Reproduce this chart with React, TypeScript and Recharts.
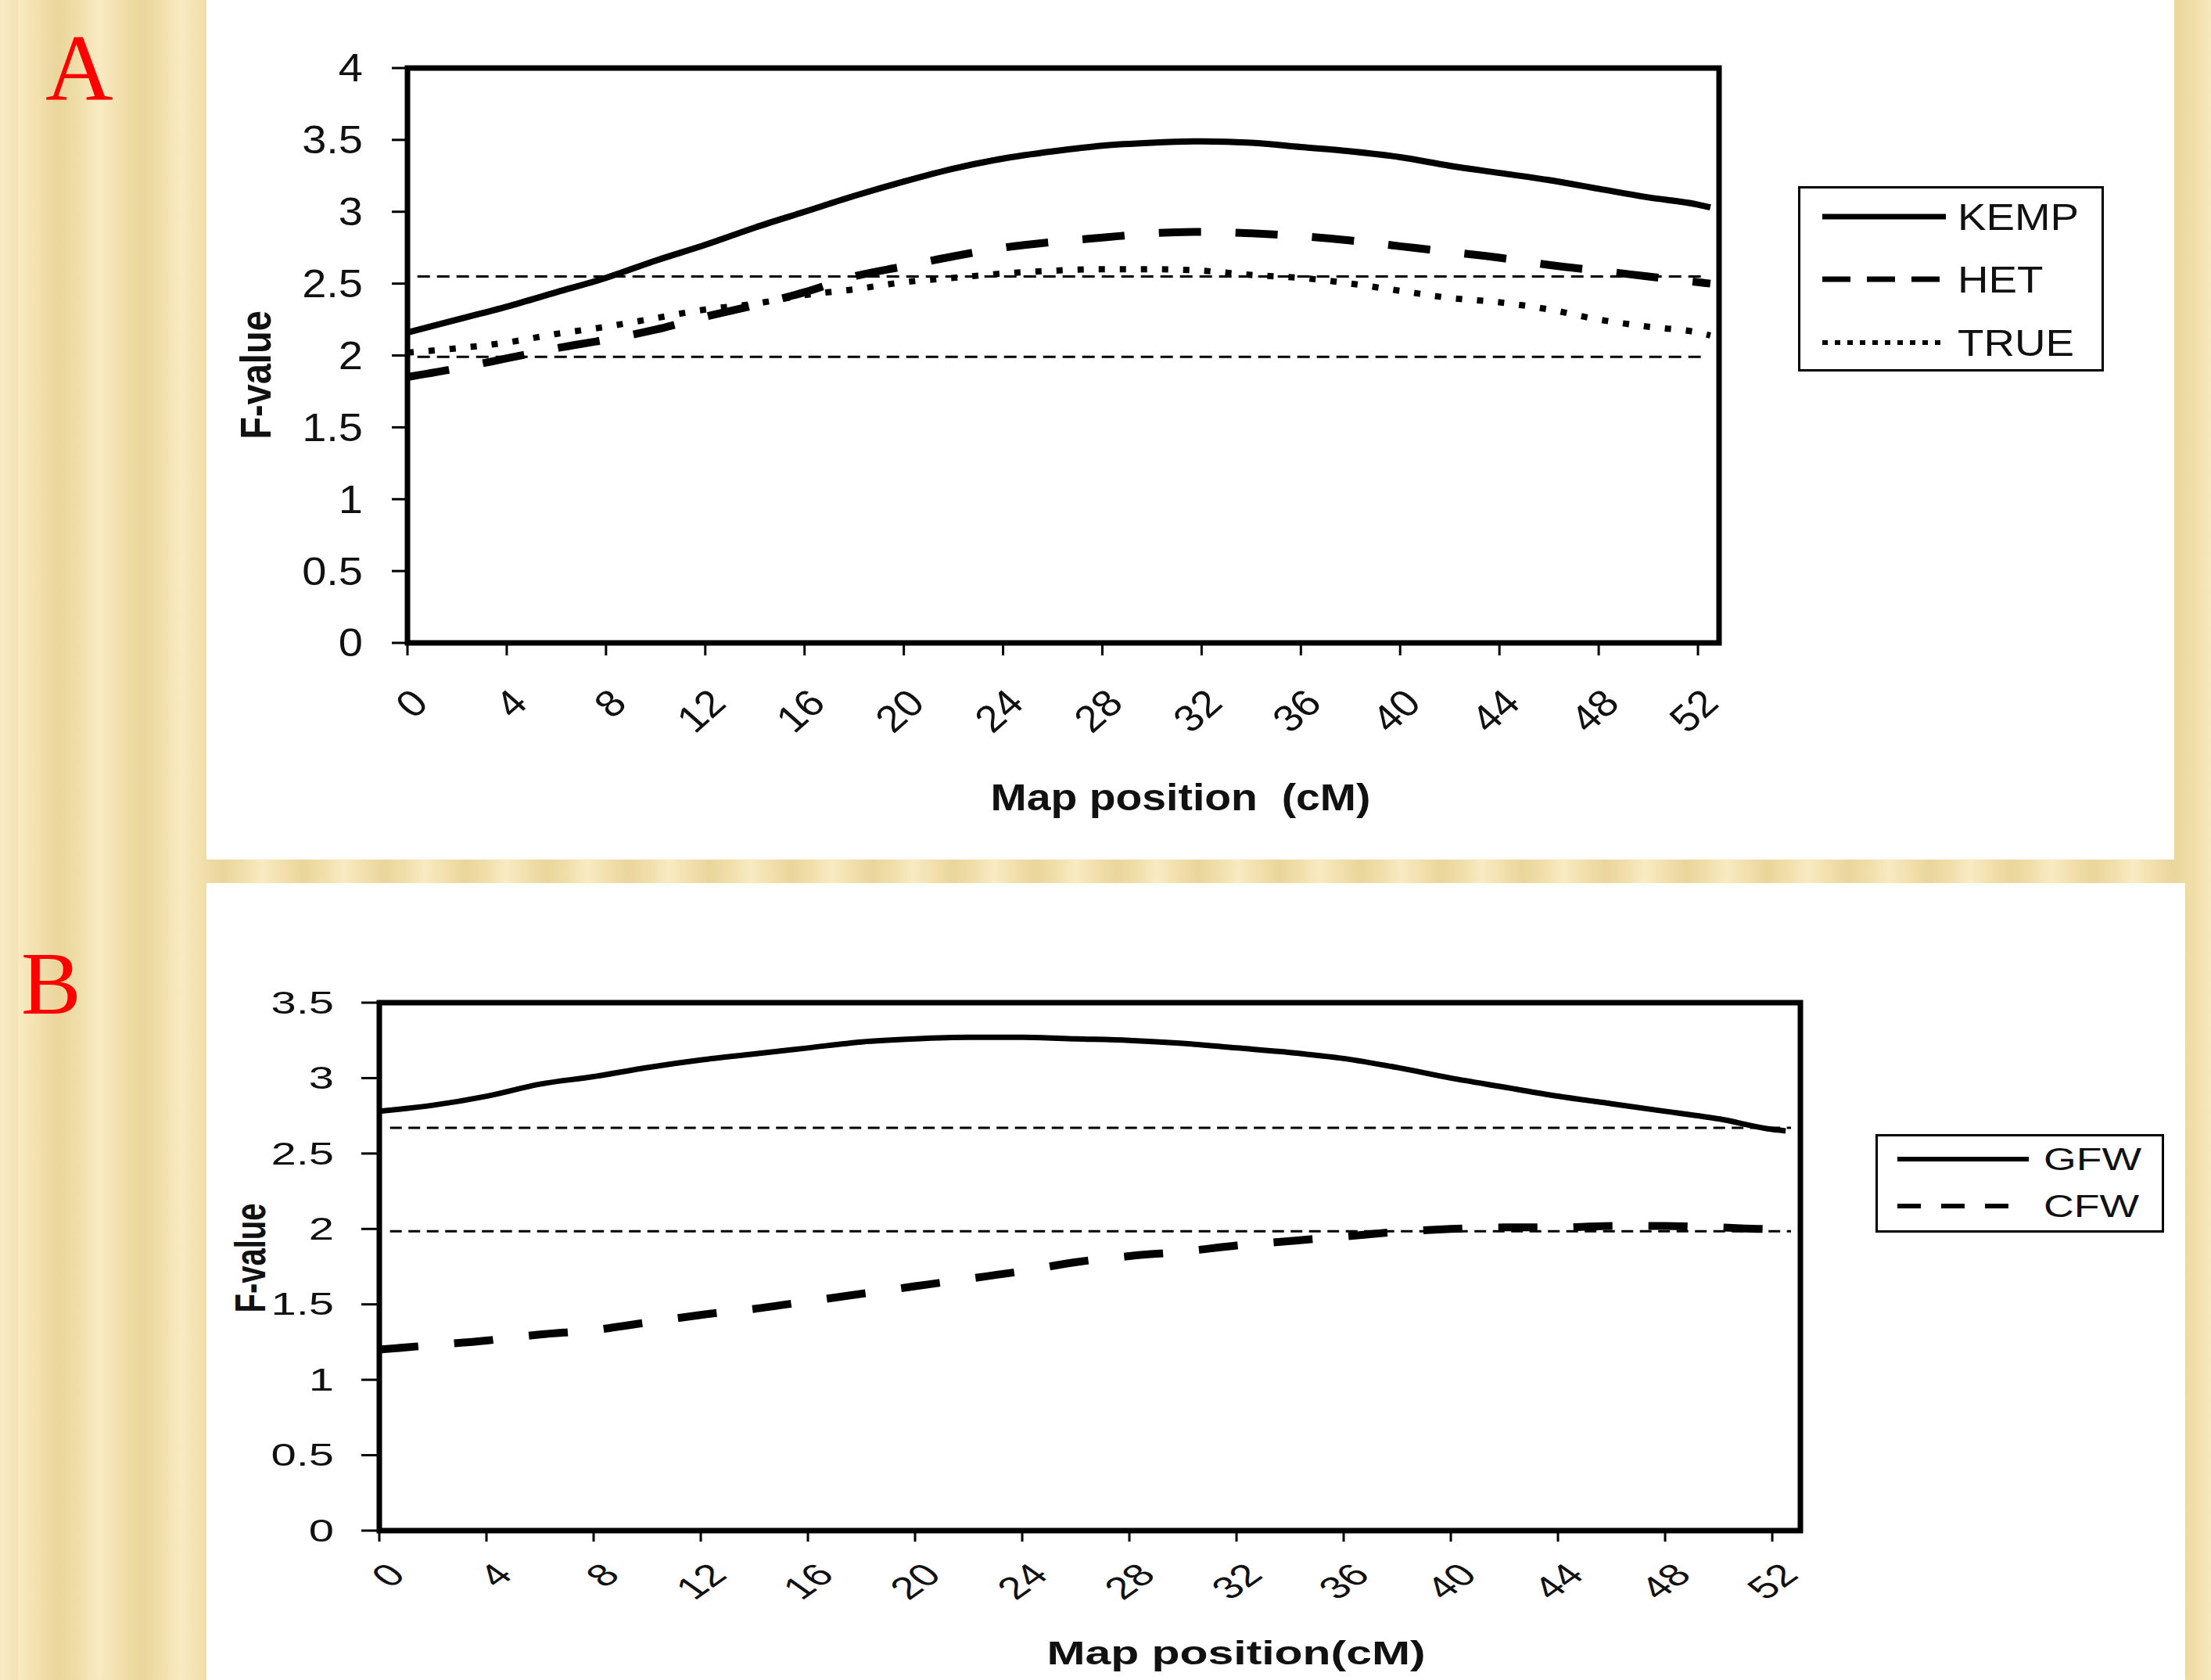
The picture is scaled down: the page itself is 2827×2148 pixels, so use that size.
import React from 'react';
import { LineChart, Line, XAxis, YAxis, ReferenceLine, ReferenceArea, Legend } from 'recharts';

// ---------- data ----------
const positions = [0, 2, 4, 6, 8, 10, 12, 14, 16, 18, 20, 22, 24, 26, 28, 30, 32, 34, 36, 38, 40, 42, 44, 46, 48, 50, 52, 52.5];

// Panel A
const kempValues = [2.16, 2.25, 2.34, 2.44, 2.54, 2.66, 2.77, 2.89, 3.0, 3.11, 3.21, 3.3, 3.37, 3.42, 3.46, 3.48, 3.49, 3.48, 3.45, 3.42, 3.38, 3.32, 3.27, 3.22, 3.16, 3.1, 3.05, 3.03];
const hetValues = [1.85, 1.91, 1.98, 2.05, 2.11, 2.18, 2.27, 2.35, 2.44, 2.55, 2.62, 2.69, 2.75, 2.79, 2.82, 2.85, 2.86, 2.85, 2.83, 2.8, 2.76, 2.72, 2.68, 2.63, 2.59, 2.55, 2.51, 2.5];
const trueValues = [2.02, 2.05, 2.09, 2.15, 2.2, 2.26, 2.32, 2.36, 2.42, 2.46, 2.51, 2.54, 2.57, 2.59, 2.6, 2.6, 2.59, 2.56, 2.54, 2.5, 2.45, 2.4, 2.37, 2.32, 2.25, 2.2, 2.16, 2.14];

// Panel B
const gfwValues = [2.78, 2.82, 2.88, 2.96, 3.01, 3.07, 3.12, 3.16, 3.2, 3.24, 3.26, 3.27, 3.27, 3.26, 3.25, 3.23, 3.2, 3.17, 3.13, 3.07, 3.0, 2.94, 2.88, 2.83, 2.78, 2.73, 2.66, 2.65];
const cfwValues = [1.2, 1.23, 1.26, 1.3, 1.33, 1.38, 1.43, 1.47, 1.52, 1.57, 1.62, 1.67, 1.72, 1.78, 1.82, 1.85, 1.89, 1.92, 1.95, 1.98, 2.0, 2.01, 2.01, 2.02, 2.02, 2.01, 2.0, 2.0];

const xTicks = [0, 4, 8, 12, 16, 20, 24, 28, 32, 36, 40, 44, 48, 52];
const yTicksA = [0, 0.5, 1, 1.5, 2, 2.5, 3, 3.5, 4];
const yTicksB = [0, 0.5, 1, 1.5, 2, 2.5, 3, 3.5];
const thresholdsA = [2.55, 1.99];
const thresholdsB = [2.67, 1.985];

const seriesNamesA = ['KEMP', 'HET', 'TRUE'];
const seriesNamesB = ['GFW', 'CFW'];

const dataA = positions.map((p, i) => ({ pos: p, KEMP: kempValues[i], HET: hetValues[i], TRUE: trueValues[i] }));
const dataB = positions.map((p, i) => ({ pos: p, GFW: gfwValues[i], CFW: cfwValues[i] }));

// ---------- styles ----------
const FONT = '"Liberation Sans", Arial, sans-serif';
const INK = '#111';

const styleA: Record<string, { w: number; d?: string; lw: number; ld?: string }> = {
  KEMP: { w: 8, lw: 7 },
  HET: { w: 10, d: '54 44', lw: 7, ld: '36 21' },
  TRUE: { w: 8, d: '8 19', lw: 6, ld: '7 9' },
};
const styleB: Record<string, { w: number; d?: string; lw: number; ld?: string }> = {
  GFW: { w: 7, lw: 6 },
  CFW: { w: 10, d: '50 46', lw: 6, ld: '30 26' },
};

const makeYTick = (fs: number, sx: number) => (p: any) => (
  <text
    transform={`translate(${p.x},${p.y}) scale(${sx},1)`}
    textAnchor="end"
    dominantBaseline="central"
    fontFamily={FONT}
    fontSize={fs}
    fill={INK}
  >
    {p.payload.value}
  </text>
);

const makeXTick = (fs: number, sx: number, tickSize: number, dx: number, dy: number) => (p: any) => {
  const ax = p.x + dx;
  const ay = p.y - tickSize + dy;
  return (
    <text
      transform={`translate(${ax},${ay}) scale(${sx},1) rotate(-45)`}
      textAnchor="end"
      dominantBaseline="central"
      fontFamily={FONT}
      fontSize={fs}
      fill={INK}
    >
      {p.payload.value}
    </text>
  );
};

const makeYTitle = (text: string, fs: number, sx: number, cxOff: number, cyOff: number) => (props: any) => {
  const vb = props.viewBox;
  const cx = vb.x + cxOff;
  const cy = vb.y + vb.height / 2 + cyOff;
  return (
    <text
      transform={`translate(${cx},${cy}) scale(${sx},1) rotate(-90)`}
      textAnchor="middle"
      dominantBaseline="central"
      fontFamily={FONT}
      fontWeight="bold"
      fontSize={fs}
      fill={INK}
    >
      {text}
    </text>
  );
};

const makeXTitle = (text: string, fs: number, sx: number, cxOff: number, baseOff: number) => (props: any) => {
  const vb = props.viewBox;
  const cx = vb.x + vb.width / 2 + cxOff;
  const by = vb.y + baseOff;
  return (
    <text
      transform={`translate(${cx},${by}) scale(${sx},1)`}
      textAnchor="middle"
      fontFamily={FONT}
      fontWeight="bold"
      fontSize={fs}
      fill={INK}
      style={{ whiteSpace: 'pre' }}
    >
      {text}
    </text>
  );
};

type LegendBox = { w: number; h: number; rows: number[]; lx1: number; lx2: number; tx: number; fs: number; sx: number };

const makeLegend = (names: string[], st: typeof styleA, box: LegendBox) => () => (
  <div
    style={{
      boxSizing: 'border-box',
      width: box.w,
      height: box.h,
      border: '3px solid #000',
      background: '#fff',
      position: 'relative',
    }}
  >
    <svg width={box.w} height={box.h} style={{ position: 'absolute', left: -3, top: -3 }}>
      {names.map((n, i) => (
        <g key={n}>
          <line
            x1={box.lx1}
            x2={box.lx2}
            y1={box.rows[i]}
            y2={box.rows[i]}
            stroke="#000"
            strokeWidth={st[n].lw}
            strokeDasharray={st[n].ld}
          />
          <text
            transform={`translate(${box.tx},${box.rows[i]}) scale(${box.sx},1)`}
            dominantBaseline="central"
            fontFamily={FONT}
            fontSize={box.fs}
            fill={INK}
          >
            {n}
          </text>
        </g>
      ))}
    </svg>
  </div>
);

const gold =
  'repeating-linear-gradient(90deg, #f9eac3 0px, #f3e1b0 22px, #ead59b 52px, #f1dfab 80px, #f9eac3 104px)';

const XMAX_A = 52.85;
const XMAX_B = 53.05;

export default function App() {
  return (
    <div
      style={{
        position: 'absolute',
        left: 0,
        top: 0,
        width: 2827,
        height: 2148,
        overflow: 'hidden',
        background: gold,
        backgroundPosition: '23px 0',
      }}
    >
      {/* Panel letters */}
      <div style={{ position: 'absolute', left: 58, top: 28, fontFamily: '"Liberation Serif", serif', fontSize: 120, lineHeight: '120px', color: '#ff0000' }}>A</div>
      <div style={{ position: 'absolute', left: 27, top: 1200, fontFamily: '"Liberation Serif", serif', fontSize: 115, lineHeight: '115px', color: '#ff0000' }}>B</div>

      {/* Panel A */}
      <div style={{ position: 'absolute', left: 264, top: 0, width: 2516, height: 1099, background: '#fff' }}>
        <LineChart width={2516} height={1099} data={dataA} margin={{ top: 87, right: 582, bottom: 0, left: 0 }}>
          <XAxis
            dataKey="pos"
            type="number"
            domain={[0, XMAX_A]}
            ticks={xTicks}
            allowDataOverflow
            axisLine={false}
            tickLine={{ stroke: '#000', strokeWidth: 3 }}
            tickSize={16}
            tickMargin={0}
            height={277}
            interval={0}
            tick={makeXTick(48, 1.13, 16, 16, 68)}
            label={{ content: makeXTitle('Map position  (cM)', 49, 1.13, 150, 214) }}
          />
          <YAxis
            type="number"
            domain={[0, 4]}
            ticks={yTicksA}
            width={257}
            axisLine={false}
            tickLine={{ stroke: '#000', strokeWidth: 3 }}
            tickSize={20}
            tickMargin={37}
            interval={0}
            tick={makeYTick(50, 1.12)}
            label={{ content: makeYTitle('F-value', 47, 1.2, 62, 25) }}
          />
          {thresholdsA.map((t) => (
            <ReferenceLine
              key={t}
              segment={[{ x: 0.4, y: t }, { x: 52.3, y: t }]}
              stroke="#000"
              strokeWidth={3}
              strokeDasharray="16 9"
              ifOverflow="visible"
            />
          ))}
          {seriesNamesA.map((n) => (
            <Line
              key={n}
              dataKey={n}
              name={n}
              type="monotone"
              stroke="#000"
              strokeWidth={styleA[n].w}
              strokeDasharray={styleA[n].d}
              dot={false}
              activeDot={false}
              isAnimationActive={false}
            />
          ))}
          <ReferenceArea x1={0} x2={XMAX_A} y1={0} y2={4} fill="none" stroke="#000" strokeWidth={7} ifOverflow="visible" />
          <Legend
            layout="horizontal"
            align="center"
            verticalAlign="middle"
            wrapperStyle={{ left: 2035, top: 238, width: 391, height: 237 }}
            content={makeLegend(seriesNamesA, styleA, { w: 391, h: 237, rows: [39, 119, 200], lx1: 31, lx2: 189, tx: 204, fs: 48, sx: 1.14 })}
          />
        </LineChart>
      </div>

      {/* Panel B */}
      <div style={{ position: 'absolute', left: 264, top: 1129, width: 2530, height: 1019, background: '#fff' }}>
        <LineChart width={2530} height={1019} data={dataB} margin={{ top: 153, right: 492, bottom: 0, left: 0 }}>
          <XAxis
            dataKey="pos"
            type="number"
            domain={[0, XMAX_B]}
            ticks={xTicks}
            allowDataOverflow
            axisLine={false}
            tickLine={{ stroke: '#000', strokeWidth: 3 }}
            tickSize={14}
            tickMargin={0}
            height={191}
            interval={0}
            tick={makeXTick(40, 1.4, 14, 22, 49)}
            label={{ content: makeXTitle('Map position(cM)', 43, 1.37, 187, 171) }}
          />
          <YAxis
            type="number"
            domain={[0, 3.5]}
            ticks={yTicksB}
            width={221}
            axisLine={false}
            tickLine={{ stroke: '#000', strokeWidth: 3 }}
            tickSize={23}
            tickMargin={35}
            interval={0}
            tick={makeYTick(40, 1.45)}
            label={{ content: makeYTitle('F-value', 40, 1.4, 55, -11) }}
          />
          {thresholdsB.map((t) => (
            <ReferenceLine
              key={t}
              segment={[{ x: 0.4, y: t }, { x: 52.7, y: t }]}
              stroke="#000"
              strokeWidth={3}
              strokeDasharray="15 8.5"
              ifOverflow="visible"
            />
          ))}
          {seriesNamesB.map((n) => (
            <Line
              key={n}
              dataKey={n}
              name={n}
              type="monotone"
              stroke="#000"
              strokeWidth={styleB[n].w}
              strokeDasharray={styleB[n].d}
              dot={false}
              activeDot={false}
              isAnimationActive={false}
            />
          ))}
          <ReferenceArea x1={0} x2={XMAX_B} y1={0} y2={3.5} fill="none" stroke="#000" strokeWidth={7} ifOverflow="visible" />
          <Legend
            layout="horizontal"
            align="center"
            verticalAlign="middle"
            wrapperStyle={{ left: 2134, top: 321, width: 369, height: 126 }}
            content={makeLegend(seriesNamesB, styleB, { w: 369, h: 126, rows: [32, 92], lx1: 28, lx2: 196, tx: 215, fs: 40, sx: 1.34 })}
          />
        </LineChart>
      </div>
    </div>
  );
}
